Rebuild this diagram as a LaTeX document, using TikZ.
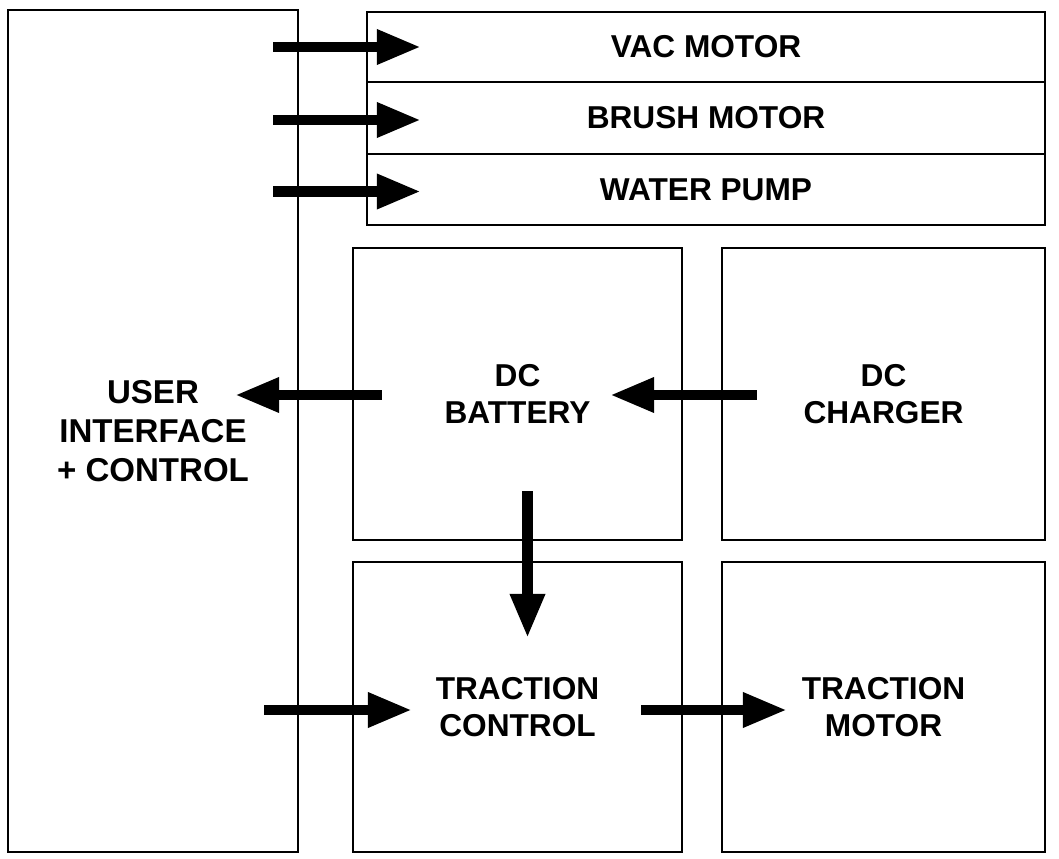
\documentclass[tikz,border=0pt]{standalone}
\usepackage{fontspec}
\setmainfont{Liberation Sans}
\usepackage{tikz}
\usetikzlibrary{positioning, arrows.meta, calc}

\begin{document}
\begin{tikzpicture}[
    x=0.025cm, y=-0.025cm,
    block/.style={draw, line width=1.6pt, inner sep=0pt, align=center,
        font=\fontsize{22.5}{26.5}\selectfont\bfseries},
    flow/.style={line width=7.2pt, -{Triangle[length=1.1cm, width=0.82cm]}}
]
\useasboundingbox (0,0) rectangle (1059,859);

% Draw the blocks
\node[block, minimum width=7.25cm, minimum height=21.05cm,
    font=\fontsize{23.5}{27.5}\selectfont\bfseries] (ui) at (153,431) {USER\\INTERFACE\\+ CONTROL};
\node[block, minimum width=16.95cm, minimum height=1.75cm] (vac) at (706,47) {VAC MOTOR};
\node[block, minimum width=16.95cm, minimum height=1.8cm] (brush) at (706,118) {BRUSH MOTOR};
\node[block, minimum width=16.95cm, minimum height=1.775cm] (pump) at (706,189.5) {WATER PUMP};
\node[block, minimum width=8.225cm, minimum height=7.3cm] (bat) at (517.5,394) {DC\\BATTERY};
\node[block, minimum width=8.075cm, minimum height=7.3cm] (chg) at (883.5,394) {DC\\CHARGER};
\node[block, minimum width=8.225cm, minimum height=7.25cm] (tctrl) at (517.5,707) {TRACTION\\CONTROL};
\node[block, minimum width=8.075cm, minimum height=7.25cm] (tmot) at (883.5,707) {TRACTION\\MOTOR};

% Draw the arrows
\draw[flow] ($(ui.east |- vac.west)+(-26,0)$) -- ($(vac.west)+(55,0)$);
\draw[flow] ($(ui.east |- brush.west)+(-26,2)$) -- ($(brush.west)+(55,2)$);
\draw[flow] ($(ui.east |- pump.west)+(-26,2)$) -- ($(pump.west)+(55,2)$);
\draw[flow] ($(bat.west)+(30,1)$) -- ($(ui.east |- bat.west)+(-64,1)$);
\draw[flow] ($(chg.west)+(36,1)$) -- ($(bat.east)+(-73,1)$);
\draw[flow] ($(bat.south)+(10,-50)$) -- ($(tctrl.north)+(10,77)$);
\draw[flow] ($(ui.east |- tctrl.west)+(-35,3)$) -- ($(tctrl.west)+(60,3)$);
\draw[flow] ($(tctrl.east)+(-42,3)$) -- ($(tmot.west)+(66,3)$);

\end{tikzpicture}
\end{document}
